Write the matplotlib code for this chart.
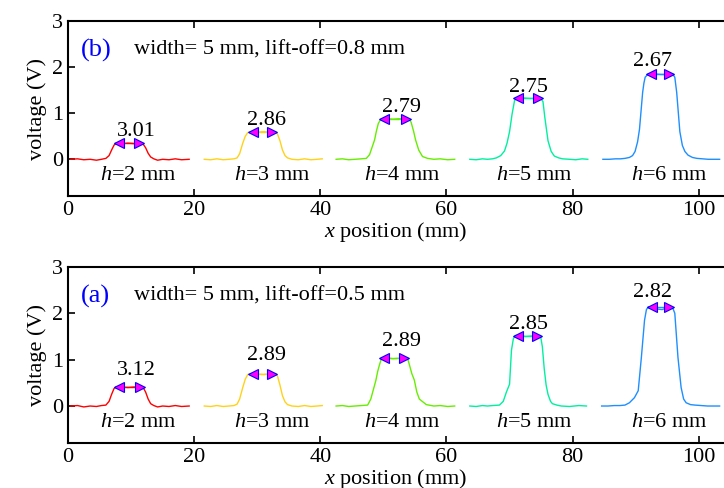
import matplotlib
matplotlib.use("Agg")
import matplotlib.pyplot as plt

plt.rcParams['font.family'] = ['Liberation Serif', 'DejaVu Serif']
plt.rcParams['mathtext.fontset'] = 'custom'
plt.rcParams['mathtext.rm'] = 'Liberation Serif'
plt.rcParams['mathtext.it'] = 'Liberation Serif:italic'

colors = ['#ff0000', '#ffd21a', '#66ee00', '#00f0a0', '#1e8fff']
heights_mm = [2, 3, 4, 5, 6]

# ---- panel (b): lift-off 0.8 mm ----
b_x = [
    [0.4, 1.5, 2.5, 3.5, 4.5, 5.3, 6.0, 6.5, 6.9, 7.3, 7.7, 8.5, 9.5, 10.5, 11.4, 11.9, 12.3, 12.7, 13.1, 13.6, 14.2, 15.0, 16.0, 17.0, 18.0, 19.2],
    [21.6, 22.6, 23.6, 24.6, 25.5, 26.3, 26.8, 27.2, 27.7, 28.1, 28.5, 28.9, 30.0, 31.0, 32.0, 32.9, 33.2, 33.6, 34.0, 34.4, 34.8, 35.5, 36.5, 37.5, 38.5, 39.5, 40.3],
    [42.5, 43.5, 44.5, 45.5, 46.5, 47.3, 47.8, 48.3, 48.6, 48.9, 49.2, 49.6, 50.5, 51.5, 52.5, 53.4, 54.1, 54.4, 54.8, 55.1, 55.6, 56.2, 57.0, 58.0, 59.0, 60.2, 61.3],
    [63.7, 64.7, 65.7, 66.5, 67.3, 67.9, 68.6, 69.2, 69.6, 70.0, 70.4, 70.8, 71.2, 72.2, 73.2, 74.2, 75.0, 75.3, 75.6, 76.1, 76.6, 77.1, 77.8, 78.4, 79.5, 80.5, 81.5, 82.4],
    [84.8, 85.8, 86.8, 87.6, 88.3, 89.0, 89.5, 89.9, 90.3, 90.6, 91.1, 91.3, 91.5, 91.9, 93.0, 94.0, 95.0, 95.9, 96.2, 96.5, 97.0, 97.4, 97.8, 98.3, 99.0, 99.7, 100.6, 101.5, 102.4, 103.3],
]
b_y = [
    [0.00, 0.01, -0.01, 0.00, -0.02, 0.00, 0.02, 0.08, 0.20, 0.31, 0.35, 0.34, 0.35, 0.34, 0.35, 0.33, 0.25, 0.13, 0.05, 0.01, -0.02, 0.00, -0.01, 0.01, -0.01, 0.00],
    [0.00, -0.01, 0.01, -0.01, 0.00, 0.01, 0.03, 0.12, 0.35, 0.50, 0.58, 0.60, 0.59, 0.60, 0.59, 0.59, 0.55, 0.40, 0.20, 0.08, 0.03, 0.00, -0.01, 0.01, -0.01, 0.00, 0.01],
    [0.00, 0.01, -0.01, 0.00, 0.01, 0.02, 0.10, 0.30, 0.42, 0.62, 0.78, 0.87, 0.88, 0.87, 0.88, 0.88, 0.87, 0.80, 0.60, 0.42, 0.20, 0.06, 0.02, 0.00, 0.01, -0.01, 0.00],
    [0.00, -0.01, 0.01, 0.00, 0.01, 0.03, 0.08, 0.18, 0.35, 0.60, 0.98, 1.28, 1.32, 1.33, 1.32, 1.32, 1.31, 1.25, 0.90, 0.40, 0.17, 0.07, 0.03, 0.01, 0.00, -0.01, 0.01, 0.00],
    [0.00, 0.00, 0.01, 0.01, 0.02, 0.04, 0.08, 0.17, 0.38, 0.65, 1.45, 1.65, 1.78, 1.84, 1.85, 1.84, 1.84, 1.84, 1.78, 1.45, 0.60, 0.30, 0.17, 0.09, 0.04, 0.02, 0.01, 0.00, 0.00, 0.00],
]
b_tips = [(7.5, 11.8, 0.35), (28.7, 32.9, 0.59), (49.6, 54.1, 0.88), (70.8, 75.0, 1.32), (91.8, 95.9, 1.84)]
b_fwhm = ['3.01', '2.86', '2.79', '2.75', '2.67']
b_fwhm_x = [10.8, 31.4, 52.9, 73.0, 92.7]
b_fwhm_y = [0.50, 0.74, 1.02, 1.45, 2.03]

# ---- panel (a): lift-off 0.5 mm ----
a_x = [
    [0.4, 1.5, 2.5, 3.5, 4.5, 5.3, 6.0, 6.5, 6.9, 7.3, 7.7, 8.5, 9.5, 10.5, 11.4, 11.9, 12.3, 12.7, 13.1, 13.6, 14.2, 15.0, 16.0, 17.0, 18.0, 19.2],
    [21.6, 22.6, 23.6, 24.6, 25.5, 26.3, 26.8, 27.2, 27.7, 28.1, 28.5, 28.9, 30.0, 31.0, 32.0, 32.9, 33.2, 33.6, 34.0, 34.4, 34.8, 35.5, 36.5, 37.5, 38.5, 39.5, 40.3],
    [42.5, 43.5, 44.5, 45.5, 46.5, 47.5, 48.0, 48.4, 48.8, 49.1, 49.4, 49.7, 50.5, 51.5, 52.5, 53.2, 53.8, 54.1, 54.5, 54.9, 55.3, 55.7, 56.8, 58.0, 59.0, 60.2, 61.3],
    [63.7, 64.7, 65.7, 66.5, 67.3, 68.4, 69.0, 69.5, 70.0, 70.3, 70.6, 70.9, 71.5, 72.5, 73.5, 74.3, 74.9, 75.2, 75.5, 75.8, 76.1, 76.5, 76.8, 77.5, 78.2, 79.5, 81.0, 82.2],
    [84.6, 85.6, 86.6, 87.5, 88.3, 89.0, 89.8, 90.4, 90.9, 91.4, 91.7, 92.0, 92.8, 93.5, 94.2, 95.0, 95.8, 96.2, 96.7, 97.2, 97.6, 98.0, 98.7, 99.4, 100.4, 101.4, 102.4, 103.3],
]
a_y = [
    [0.00, 0.01, -0.02, 0.00, -0.01, 0.01, 0.02, 0.10, 0.25, 0.38, 0.42, 0.41, 0.40, 0.41, 0.41, 0.40, 0.30, 0.15, 0.05, 0.01, -0.02, 0.00, -0.01, 0.01, -0.01, 0.00],
    [0.00, -0.01, 0.01, -0.01, 0.00, 0.01, 0.04, 0.15, 0.40, 0.58, 0.68, 0.70, 0.69, 0.68, 0.70, 0.70, 0.65, 0.45, 0.22, 0.09, 0.03, 0.00, -0.01, 0.01, -0.01, 0.00, 0.01],
    [0.00, 0.01, -0.01, 0.00, 0.01, 0.02, 0.15, 0.35, 0.55, 0.75, 0.90, 1.03, 1.04, 1.02, 1.03, 1.04, 1.04, 0.90, 0.70, 0.56, 0.30, 0.15, 0.03, 0.00, 0.01, -0.01, 0.00],
    [0.00, -0.01, 0.01, 0.00, 0.01, 0.02, 0.10, 0.30, 0.47, 1.20, 1.45, 1.52, 1.53, 1.50, 1.51, 1.52, 1.52, 1.28, 0.80, 0.45, 0.25, 0.10, 0.05, 0.02, 0.00, -0.01, 0.01, 0.00],
    [0.00, 0.00, 0.01, 0.01, 0.02, 0.07, 0.18, 0.33, 1.05, 1.85, 2.08, 2.14, 2.13, 2.09, 2.08, 2.12, 2.14, 2.00, 1.05, 0.40, 0.15, 0.07, 0.03, 0.02, 0.01, 0.00, 0.00, 0.00],
]
a_tips = [(7.5, 11.9, 0.41), (28.7, 32.9, 0.70), (49.6, 53.8, 1.04), (70.8, 74.9, 1.52), (92.0, 95.8, 2.14)]
a_fwhm = ['3.12', '2.89', '2.89', '2.85', '2.82']
a_fwhm_x = [10.8, 31.4, 52.9, 73.0, 92.7]
a_fwhm_y = [0.67, 1.00, 1.30, 1.67, 2.35]

h_label_x = [11.2, 32.4, 53.0, 74.0, 95.4]


def draw_panel(ax, xs, ys, tips, fwhm, fwhm_x, fwhm_y, tag, desc):
    for i in range(5):
        ax.plot(xs[i], ys[i], color=colors[i], lw=1.0)
        xl, xr, yt = tips[i]
        ax.plot([xl, xr], [yt, yt], color=colors[i], lw=1.0)
        ax.plot(xl + 0.55, yt, marker='<', ms=6.5, mfc='magenta', mec='blue', mew=0.8, ls='none')
        ax.plot(xr - 0.55, yt, marker='>', ms=6.5, mfc='magenta', mec='blue', mew=0.8, ls='none')
        ax.text(fwhm_x[i], fwhm_y[i], fwhm[i], ha='center', va='baseline', fontsize=16)
        ax.text(h_label_x[i], -0.35, '$h$=%d mm' % heights_mm[i], ha='center', va='center', fontsize=16)
    ax.text(2.0, 2.37, tag, color='blue', fontsize=19, va='center')
    ax.text(10.5, 2.37, desc, fontsize=16, va='center')
    ax.set_xlim(0, 104)
    ax.set_ylim(-0.8, 3)
    ax.set_xticks([0, 20, 40, 60, 80, 100])
    ax.set_yticks([0, 1, 2, 3])
    ax.tick_params(direction='in', top=True, right=False, labelsize=16, width=1.2, length=5)
    for s in ['left', 'bottom', 'top']:
        ax.spines[s].set_linewidth(1.5)
    ax.spines['right'].set_visible(False)
    ax.set_ylabel('voltage (V)', fontsize=16, labelpad=4)
    ax.set_xlabel('$x$ position (mm)', fontsize=16, labelpad=0)


fig = plt.figure(figsize=(7.24, 4.88), dpi=100)
ax_b = fig.add_axes([0.094, 0.598, 0.906, 0.359])
ax_a = fig.add_axes([0.094, 0.092, 0.906, 0.361])

draw_panel(ax_b, b_x, b_y, b_tips, b_fwhm, b_fwhm_x, b_fwhm_y, '(b)', 'width= 5 mm, lift-off=0.8 mm')
draw_panel(ax_a, a_x, a_y, a_tips, a_fwhm, a_fwhm_x, a_fwhm_y, '(a)', 'width= 5 mm, lift-off=0.5 mm')

fig.savefig('out.png', dpi=100)
